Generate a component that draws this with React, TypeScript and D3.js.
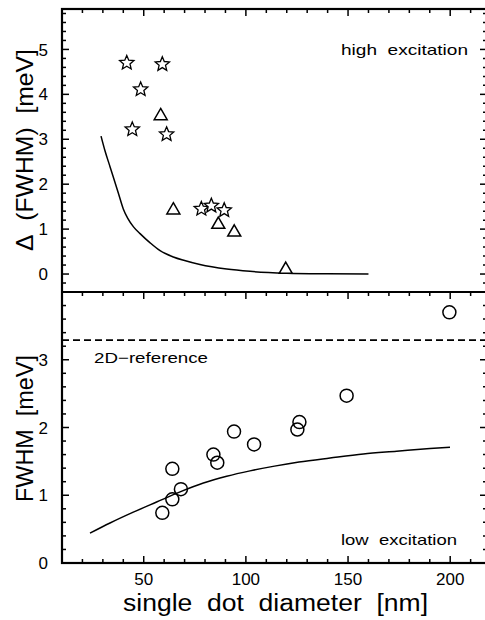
import React from 'react';
import * as d3 from 'd3';

// ---- data ----
const starX = [41.7, 59.1, 48.5, 44.4, 61.2, 78.2, 83.1, 89.4];
const starY = [4.70, 4.67, 4.11, 3.22, 3.11, 1.45, 1.52, 1.42];
const triX = [58.3, 64.5, 86.5, 94.3, 119.5];
const triY = [3.52, 1.42, 1.10, 0.93, 0.10];
const topCurveX = [29.1, 31, 33.5, 37.6, 40, 42.2, 45, 48.2, 53, 58, 64.5, 70, 77.5, 90.6, 102, 120, 140, 160];
const topCurveY = [3.07, 2.75, 2.39, 1.80, 1.45, 1.24, 1.05, 0.90, 0.70, 0.52, 0.38, 0.30, 0.21, 0.11, 0.06, 0.02, 0.005, 0];
const circX = [59.1, 64.0, 64.0, 68.2, 84.1, 86.0, 94.2, 104, 125.2, 126.2, 149.3, 199.6];
const circY = [0.74, 0.94, 1.39, 1.09, 1.60, 1.48, 1.94, 1.75, 1.97, 2.08, 2.47, 3.70];
const botCurveX = [23.7, 33.5, 44.9, 56.3, 67.8, 79.2, 90.6, 102, 114, 126, 141.2, 157.5, 173.8, 190.1, 199.9];
const botCurveY = [0.44, 0.59, 0.75, 0.90, 1.05, 1.18, 1.28, 1.36, 1.43, 1.49, 1.55, 1.61, 1.65, 1.69, 1.71];
const refLevel = 3.29;
const xTickLabels = [50, 100, 150, 200];
const topYTickLabels = [0, 1, 2, 3, 4, 5];
const botYTickLabels = [0, 1, 2, 3];

const FONT = '"Liberation Sans", Arial, Helvetica, sans-serif';
const SP = '\u00A0\u00A0';

const starType = {
  draw(ctx: any, size: number) {
    const R = Math.sqrt(size);
    const r = R * 0.45;
    for (let i = 0; i < 10; i++) {
      const a = -Math.PI / 2 + (i * Math.PI) / 5;
      const rad = i % 2 ? r : R;
      const x = rad * Math.cos(a);
      const y = rad * Math.sin(a);
      if (i === 0) ctx.moveTo(x, y);
      else ctx.lineTo(x, y);
    }
    ctx.closePath();
  },
};

export default function App() {
  const left = 62;
  const right = 488;
  const topY0 = 9;
  const mid = 292;
  const botY1 = 563;

  const x = d3.scaleLinear().domain([10, 218.5]).range([left, right]);
  const yTop = d3.scaleLinear().domain([-0.4, 5.9]).range([mid, topY0]);
  const yBot = d3.scaleLinear().domain([0, 4]).range([botY1, mid]);

  const starPath = d3.symbol(starType as any, 7.5 * 7.5)() as string;
  const triPath = d3.symbol(d3.symbolTriangle, 73)() as string;

  const topLine = d3
    .line<number>()
    .x((_, i) => x(topCurveX[i]))
    .y((d) => yTop(d))
    .curve(d3.curveMonotoneX)(topCurveY) as string;
  const botLine = d3
    .line<number>()
    .x((_, i) => x(botCurveX[i]))
    .y((d) => yBot(d))
    .curve(d3.curveMonotoneX)(botCurveY) as string;

  const xMinor = d3.range(20, 218, 10);
  const topYMinor = d3.range(-0.2, 5.85, 0.2).map((v) => Math.round(v * 10) / 10);
  const botYMinor = d3.range(0.2, 3.85, 0.2).map((v) => Math.round(v * 10) / 10);
  const isMajor = (v: number) => Math.abs(v - Math.round(v)) < 1e-6;

  const tickStroke = 1.5;
  const maj = 7;
  const min = 4;

  return (
    <svg
      width={485}
      height={620}
      style={{ position: 'absolute', left: 0, top: 0, display: 'block', background: '#fff' }}
      fontFamily={FONT}
    >
      <rect x={0} y={0} width={485} height={620} fill="#fff" />

      {xMinor.map((v) => {
        const len = v % 50 === 0 ? maj : min;
        return (
          <g key={'xt' + v} stroke="#000" strokeWidth={tickStroke}>
            <line x1={x(v)} x2={x(v)} y1={topY0} y2={topY0 + len} />
            <line x1={x(v)} x2={x(v)} y1={mid} y2={mid + len} />
            <line x1={x(v)} x2={x(v)} y1={botY1} y2={botY1 - len} />
          </g>
        );
      })}

      {topYMinor.map((v) => {
        const len = isMajor(v) ? maj : min;
        return (
          <g key={'yt' + v} stroke="#000" strokeWidth={tickStroke}>
            <line x1={left} x2={left + len} y1={yTop(v)} y2={yTop(v)} />
            <line x1={right} x2={right - len - 1} y1={yTop(v)} y2={yTop(v)} />
          </g>
        );
      })}
      {botYMinor.map((v) => {
        const len = isMajor(v) ? maj : min;
        return (
          <g key={'yb' + v} stroke="#000" strokeWidth={tickStroke}>
            <line x1={left} x2={left + len} y1={yBot(v)} y2={yBot(v)} />
            <line x1={right} x2={right - len - 1} y1={yBot(v)} y2={yBot(v)} />
          </g>
        );
      })}

      <rect x={left} y={topY0} width={right - left} height={botY1 - topY0} fill="none" stroke="#000" strokeWidth={2.2} />
      <line x1={left} x2={right} y1={mid} y2={mid} stroke="#000" strokeWidth={2.2} />

      {topYTickLabels.map((v) => (
        <text key={'tl' + v} x={48} y={yTop(v)} dy="0.36em" textAnchor="end" fontSize={17} fill="#000">
          {v}
        </text>
      ))}
      {botYTickLabels.map((v) => (
        <text key={'bl' + v} x={48} y={yBot(v)} dy="0.36em" textAnchor="end" fontSize={17} fill="#000">
          {v}
        </text>
      ))}
      {xTickLabels.map((v) => (
        <text key={'xl' + v} x={x(v)} y={584.5} textAnchor="middle" fontSize={17} fill="#000">
          {v}
        </text>
      ))}

      <path d={topLine} fill="none" stroke="#000" strokeWidth={1.5} />
      {starX.map((v, i) => (
        <path
          key={'s' + i}
          d={starPath}
          transform={`translate(${x(v)},${yTop(starY[i])})`}
          fill="#fff"
          stroke="#000"
          strokeWidth={1.3}
        />
      ))}
      {triX.map((v, i) => (
        <path
          key={'t' + i}
          d={triPath}
          transform={`translate(${x(v)},${yTop(triY[i])})`}
          fill="#fff"
          stroke="#000"
          strokeWidth={1.5}
        />
      ))}

      <line
        x1={left}
        x2={right}
        y1={yBot(refLevel)}
        y2={yBot(refLevel)}
        stroke="#000"
        strokeWidth={1.6}
        strokeDasharray="7,4"
      />
      <path d={botLine} fill="none" stroke="#000" strokeWidth={1.5} />
      {circX.map((v, i) => (
        <circle key={'c' + i} cx={x(v)} cy={yBot(circY[i])} r={6.5} fill="none" stroke="#000" strokeWidth={1.5} />
      ))}

      <text x={341} y={54.5} fontSize={15} textLength={127} lengthAdjust="spacingAndGlyphs" fill="#000">
        {'high' + SP + 'excitation'}
      </text>
      <text x={341} y={545} fontSize={15} textLength={116} lengthAdjust="spacingAndGlyphs" fill="#000">
        {'low' + SP + 'excitation'}
      </text>
      <text x={94} y={362.7} fontSize={15} textLength={114} lengthAdjust="spacingAndGlyphs" fill="#000">
        2D−reference
      </text>

      <text
        x={275.5}
        y={611}
        textAnchor="middle"
        fontSize={23}
        textLength={305}
        lengthAdjust="spacingAndGlyphs"
        fill="#000"
      >
        {'single' + SP + 'dot' + SP + 'diameter' + SP + '[nm]'}
      </text>
      <text
        transform="translate(33,150) rotate(-90)"
        textAnchor="middle"
        fontSize={24}
        textLength={202}
        lengthAdjust="spacingAndGlyphs"
        fill="#000"
      >
        {'Δ' + SP + '(FWHM)' + SP + '[meV]'}
      </text>
      <text
        transform="translate(33,428.5) rotate(-90)"
        textAnchor="middle"
        fontSize={24}
        textLength={147}
        lengthAdjust="spacingAndGlyphs"
        fill="#000"
      >
        {'FWHM' + SP + '[meV]'}
      </text>
    </svg>
  );
}
